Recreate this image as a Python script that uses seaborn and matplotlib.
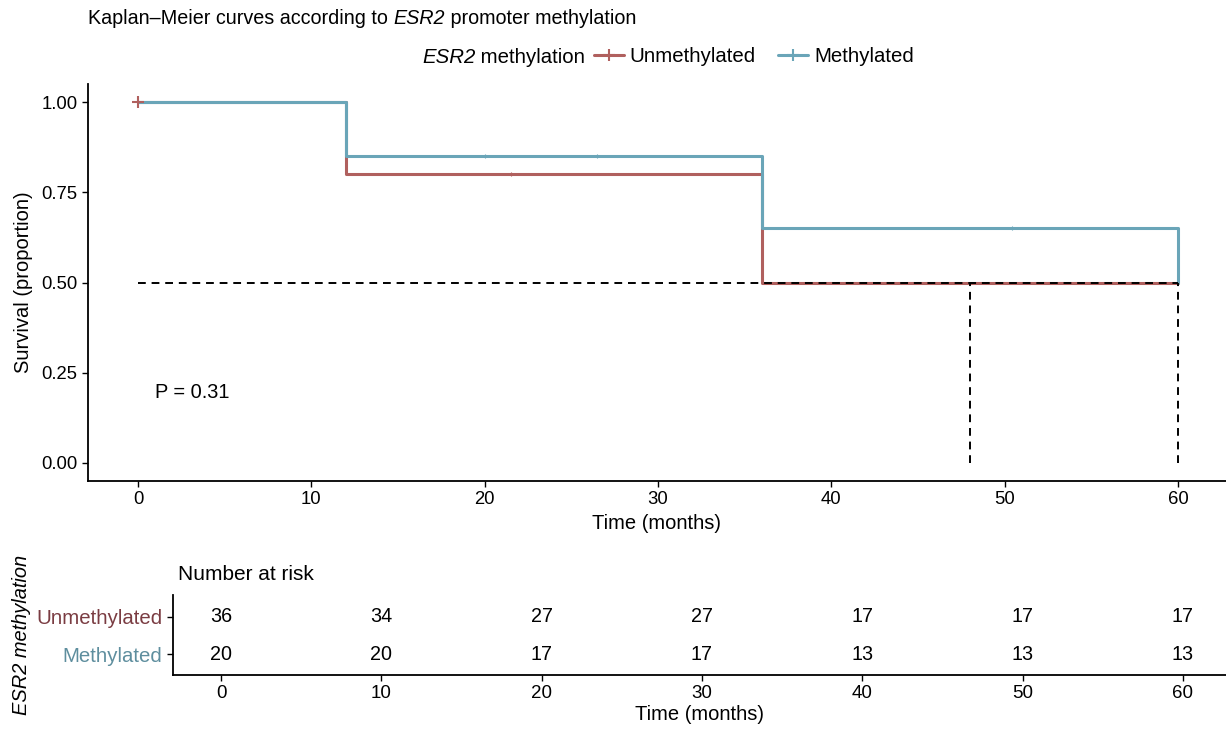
import matplotlib
matplotlib.use("Agg")
import matplotlib.pyplot as plt
from matplotlib.lines import Line2D
import numpy as np
import pandas as pd
import seaborn as sns

# Kaplan-Meier step estimates per methylation group
groups = ["Unmethylated", "Methylated"]
unmeth_times = [0, 12, 36, 60]
unmeth_surv = [1.00, 0.80, 0.50, 0.50]
meth_times = [0, 12, 36, 60]
meth_surv = [1.00, 0.85, 0.65, 0.50]

# censoring marks
unmeth_cens_t = [0, 21.5]
unmeth_cens_s = [1.00, 0.80]
meth_cens_t = [20, 26.5, 50.4]
meth_cens_s = [0.85, 0.85, 0.65]

# median survival guide lines
median_level = 0.5
median_times = [48, 60]

p_label = "P = 0.31"

# number at risk table
risk_times = [0, 10, 20, 30, 40, 50, 60]
risk_unmeth = [36, 34, 27, 27, 17, 17, 17]
risk_meth = [20, 20, 17, 17, 13, 13, 13]

colors = {"Unmethylated": "#b0605e", "Methylated": "#6aa5b8"}
label_colors = {"Unmethylated": "#7a3c42", "Methylated": "#5e8e9e"}

sns.set_style("ticks")
plt.rcParams["font.family"] = ["Liberation Sans", "DejaVu Sans"]
plt.rcParams["text.color"] = "black"
plt.rcParams["axes.labelcolor"] = "black"
plt.rcParams["xtick.color"] = "black"
plt.rcParams["ytick.color"] = "black"

df = pd.concat([
    pd.DataFrame({"time": unmeth_times, "surv": unmeth_surv, "group": "Unmethylated"}),
    pd.DataFrame({"time": meth_times, "surv": meth_surv, "group": "Methylated"}),
], ignore_index=True)

W, H = 1226, 735
fig = plt.figure(figsize=(W / 100, H / 100), dpi=100)


def mixed_text(x, y, parts, size):
    """Create text pieces (text, italic?) that will be chained left to right."""
    pieces = []
    for txt, ital in parts:
        style = "italic" if ital else "normal"
        pieces.append(fig.text(x, y, txt, fontsize=size, fontstyle=style,
                               ha="left", va="baseline"))
    return pieces


def place_chain(pieces):
    fig.canvas.draw()
    r = fig.canvas.get_renderer()
    x0, y0 = pieces[0].get_position()
    xpix = pieces[0].get_window_extent(r).x1
    for p in pieces[1:]:
        p.set_position((xpix / W, y0))
        xpix = p.get_window_extent(r).x1


# ---------- survival curves ----------
ax = fig.add_axes([88 / W, 1 - 481 / H, 1 - 88 / W, (481 - 84) / H])
sns.lineplot(data=df, x="time", y="surv", hue="group", hue_order=groups,
             palette=colors, drawstyle="steps-post", estimator=None,
             linewidth=2.2, legend=False, ax=ax)

ax.plot(meth_cens_t, meth_cens_s, linestyle="none", marker="+",
        color=colors["Methylated"], markersize=3, mew=0.8, zorder=4)
ax.plot(unmeth_cens_t[1:], unmeth_cens_s[1:], linestyle="none", marker="+",
        color=colors["Unmethylated"], markersize=3, mew=0.8, zorder=4)
ax.plot(unmeth_cens_t[:1], unmeth_cens_s[:1], linestyle="none", marker="+",
        color=colors["Unmethylated"], markersize=9, mew=1.5, zorder=5)

dash = (0, (4, 3))
ax.plot([0, max(median_times)], [median_level, median_level], color="black",
        linewidth=1.4, linestyle=dash, zorder=6)
for t in median_times:
    ax.plot([t, t], [0, median_level], color="black", linewidth=1.4,
            linestyle=dash, zorder=6)

ax.text(1, 0.195, p_label, fontsize=14.4, ha="left", va="center")

ax.set_xlim(-50 / 17.333, (W - 138) / 17.333)
ax.set_ylim(-0.05, 1.05)
ax.set_xticks([0, 10, 20, 30, 40, 50, 60])
ax.set_yticks([0, 0.25, 0.5, 0.75, 1.0])
ax.set_yticklabels(["0.00", "0.25", "0.50", "0.75", "1.00"])
ax.tick_params(labelsize=13.3, length=4, width=1, color="black", colors="black")
ax.set_xlabel("Time (months)", fontsize=14.5, labelpad=4)
ax.set_ylabel("Survival (proportion)", fontsize=14.5, labelpad=6)
for s in ["top", "right"]:
    ax.spines[s].set_visible(False)
for s in ["left", "bottom"]:
    ax.spines[s].set_linewidth(1.3)
    ax.spines[s].set_color("black")

# title and legend
title_parts = mixed_text(88 / W, 1 - 24 / H,
                         [("Kaplan–Meier curves according to ", False),
                          ("ESR2", True),
                          (" promoter methylation", False)], 14.2)
legend_title = mixed_text(422 / W, 1 - 63 / H,
                          [("ESR2", True), (" methylation", False)], 14.7)
handles = [Line2D([], [], color=colors[g], linewidth=2.2, marker="+",
                  markersize=9, mew=1.5) for g in groups]
fig.legend(handles, groups, loc="center left",
           bbox_to_anchor=(594 / W, 1 - 57 / H), ncol=2, frameon=False,
           fontsize=14.7, handlelength=1.45, handletextpad=0.3,
           columnspacing=1.1, borderaxespad=0, borderpad=0)

# ---------- number at risk table ----------
rx = fig.add_axes([173 / W, 1 - 675 / H, 1 - 173 / W, 80 / H])
row_y = {"Unmethylated": 1, "Methylated": 0}
for g, counts in zip(groups, [risk_unmeth, risk_meth]):
    for t, n in zip(risk_times, counts):
        rx.text(t, row_y[g], str(n), fontsize=14.2, ha="center", va="center")
rx.set_xlim(-3, (W - 221) / 16.03)
rx.set_ylim(-0.55, 1.58)
rx.set_xticks(risk_times)
rx.set_yticks([row_y[g] for g in groups])
rx.set_yticklabels(groups)
for lbl, g in zip(rx.get_yticklabels(), groups):
    lbl.set_color(label_colors[g])
rx.tick_params(axis="y", labelsize=14.7, length=4, width=1, color="black")
rx.tick_params(axis="x", labelsize=13.5, length=4, width=1, color="black")
rx.set_xlabel("Time (months)", fontsize=14.5, labelpad=2)
rx.set_ylabel("ESR2 methylation", fontsize=14.4, fontstyle="italic")
rx.yaxis.set_label_coords((31 - 173) / (W - 173), 0.5)
for s in ["top", "right"]:
    rx.spines[s].set_visible(False)
for s in ["left", "bottom"]:
    rx.spines[s].set_linewidth(1.3)
    rx.spines[s].set_color("black")
fig.text(178 / W, 1 - 574 / H, "Number at risk", fontsize=15, ha="left", va="center")

place_chain(title_parts)
place_chain(legend_title)

fig.savefig("out.png", dpi=100)
